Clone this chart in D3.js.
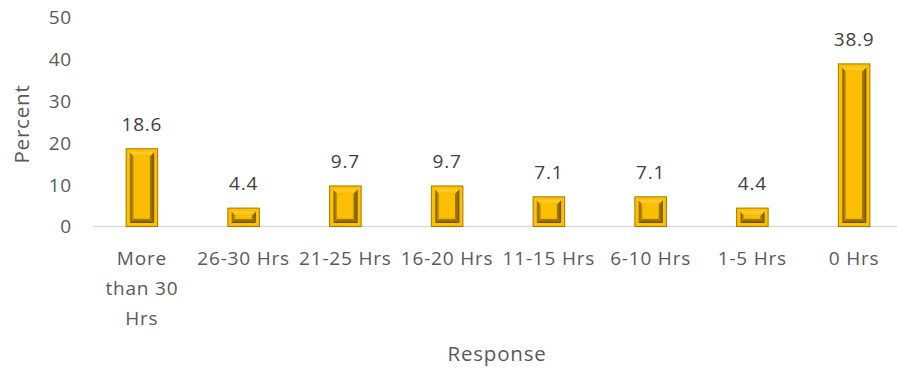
<!DOCTYPE html>
<html>
<head>
<meta charset="utf-8">
<script src="https://cdn.jsdelivr.net/npm/d3@7"></script>
<style>
  html, body { margin: 0; padding: 0; background: #fff; }
  svg { display: block; }
  text { font-family: "Open Sans", "Noto Sans", sans-serif; letter-spacing: 0.8px; }
</style>
</head>
<body>
<svg id="chart" width="897" height="371"></svg>
<script>
// Weekly hours responses and their share of respondents (%)
const categories = ["More than 30 Hrs", "26-30 Hrs", "21-25 Hrs", "16-20 Hrs", "11-15 Hrs", "6-10 Hrs", "1-5 Hrs", "0 Hrs"];
const categoryLines = [["More", "than 30", "Hrs"], ["26-30 Hrs"], ["21-25 Hrs"], ["16-20 Hrs"], ["11-15 Hrs"], ["6-10 Hrs"], ["1-5 Hrs"], ["0 Hrs"]];
const percents = [18.6, 4.4, 9.7, 9.7, 7.1, 7.1, 4.4, 38.9];
const yTicks = [0, 10, 20, 30, 40, 50];
const yTitle = "Percent";
const xTitle = "Response";

const svg = d3.select("#chart");
const W = 897, H = 371;
const plot = { left: 91, right: 905, top: 17.5, bottom: 226.5 };

const x = d3.scaleBand().domain(categories).range([plot.left, plot.right]).padding(0);
const y = d3.scaleLinear().domain([0, 50]).range([plot.bottom, plot.top]);
const barW = x.bandwidth() * 0.31;

const defs = svg.append("defs");
function grad(id, x2, y2, stops) {
  const g = defs.append("linearGradient").attr("id", id)
    .attr("x1", 0).attr("y1", 0).attr("x2", x2).attr("y2", y2);
  stops.forEach(([o, c]) => g.append("stop").attr("offset", o).attr("stop-color", c));
}
grad("bvTop", 0, 1, [[0, "#ffd23a"], [1, "#f4b800"]]);
grad("bvLeft", 1, 0, [[0, "#c99500"], [0.35, "#8a6700"], [1, "#e8ad00"]]);
grad("bvRight", 1, 0, [[0, "#b08300"], [1, "#6f5300"]]);
grad("bvBottom", 0, 1, [[0, "#b88a00"], [1, "#6b5000"]]);

// Baseline
svg.append("line")
  .attr("x1", plot.left + 2).attr("x2", W)
  .attr("y1", y(0)).attr("y2", y(0))
  .attr("stroke", "#d9d9d9").attr("stroke-width", 1.5);

// Y tick labels
svg.append("g").selectAll("text").data(yTicks).join("text")
  .attr("x", 72).attr("y", d => y(d)).attr("dy", "0.36em")
  .attr("text-anchor", "end").attr("font-size", 19).attr("fill", "#595959")
  .text(d => d);

// Bars with a bevelled face
const bars = svg.append("g").selectAll("g").data(categories).join("g");
bars.each(function (c, i) {
  const g = d3.select(this);
  const x0 = x(c) + (x.bandwidth() - barW) / 2, x1 = x0 + barW;
  const y0 = y(percents[i]), y1 = y(0);
  g.append("rect").attr("x", x0).attr("y", y0).attr("width", barW).attr("height", y1 - y0)
    .attr("fill", "#ffc000").attr("stroke", "#a07a00").attr("stroke-width", 1);
  const a = 3.5, b = Math.min(8, (y1 - y0) / 2 - 1);
  const ox0 = x0 + a, ox1 = x1 - a, oy0 = y0 + a, oy1 = y1 - a;
  const ix0 = x0 + b, ix1 = x1 - b, iy0 = y0 + b, iy1 = y1 - b;
  const poly = (pts, fill) => g.append("polygon")
    .attr("points", pts.map(p => p.join(",")).join(" ")).attr("fill", fill);
  poly([[ox0, oy0], [ox1, oy0], [ix1, iy0], [ix0, iy0]], "url(#bvTop)");
  poly([[ox0, oy0], [ix0, iy0], [ix0, iy1], [ox0, oy1]], "url(#bvLeft)");
  poly([[ox1, oy0], [ox1, oy1], [ix1, iy1], [ix1, iy0]], "url(#bvRight)");
  poly([[ox0, oy1], [ix0, iy1], [ix1, iy1], [ox1, oy1]], "url(#bvBottom)");
  g.append("rect").attr("x", ix0).attr("y", iy0)
    .attr("width", Math.max(0, ix1 - ix0)).attr("height", Math.max(0, iy1 - iy0))
    .attr("fill", "#fcbf00");
});

// Value labels
svg.append("g").selectAll("text").data(categories).join("text")
  .attr("x", c => x(c) + x.bandwidth() / 2)
  .attr("y", (c, i) => y(percents[i]) - 18)
  .attr("text-anchor", "middle").attr("font-size", 19).attr("fill", "#404040")
  .text((c, i) => percents[i].toFixed(1));

// Category labels
const cat = svg.append("g").selectAll("text").data(categories).join("text")
  .attr("x", c => x(c) + x.bandwidth() / 2)
  .attr("y", 265)
  .attr("text-anchor", "middle").attr("font-size", 19).attr("fill", "#595959");
cat.each(function (c, i) {
  d3.select(this).selectAll("tspan").data(categoryLines[i]).join("tspan")
    .attr("x", x(c) + x.bandwidth() / 2)
    .attr("dy", (d, k) => k === 0 ? 0 : 30)
    .text(d => d);
});

// Axis titles
svg.append("text")
  .attr("transform", `translate(29,${(plot.top + plot.bottom) / 2 + 2}) rotate(-90)`)
  .attr("text-anchor", "middle").attr("font-size", 20.5).attr("fill", "#595959")
  .text(yTitle);
svg.append("text")
  .attr("x", 497).attr("y", 361)
  .attr("text-anchor", "middle").attr("font-size", 20.5).attr("fill", "#595959")
  .text(xTitle);
</script>
</body>
</html>
